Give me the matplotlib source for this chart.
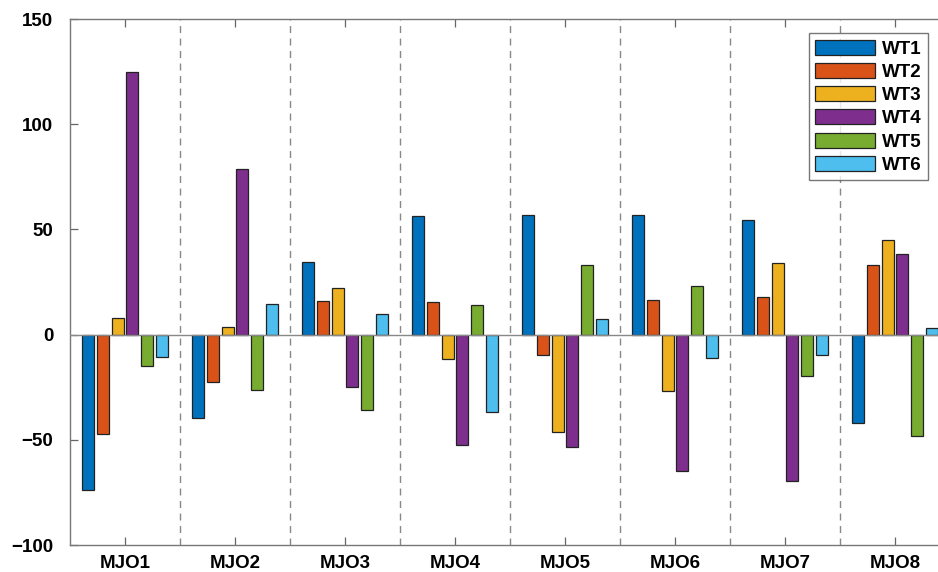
import matplotlib.pyplot as plt
import numpy as np

plt.rcParams['font.family'] = ['Liberation Sans', 'DejaVu Sans']
plt.rcParams['font.weight'] = 'bold'

categories = ['MJO1', 'MJO2', 'MJO3', 'MJO4', 'MJO5', 'MJO6', 'MJO7', 'MJO8']
series_names = ['WT1', 'WT2', 'WT3', 'WT4', 'WT5', 'WT6']

wt1 = [-74.0, -39.6, 34.4, 56.3, 57.0, 56.7, 54.6, -42.0]
wt2 = [-47.2, -22.6, 15.9, 15.6, -9.7, 16.5, 18.1, 33.3]
wt3 = [7.7, 3.8, 22.2, -11.6, -46.5, -26.7, 34.1, 45.1]
wt4 = [124.7, 78.8, -25.1, -52.5, -53.5, -65.0, -69.5, 38.2]
wt5 = [-14.8, -26.3, -35.6, 14.3, 33.3, 23.0, -19.7, -48.2]
wt6 = [-10.5, 14.7, 9.8, -36.7, 7.6, -11.3, -9.5, 3.2]

colors = ['#0072BD', '#D95319', '#EDB120', '#7E2F8E', '#77AC30', '#4DBEEE']

data = [wt1, wt2, wt3, wt4, wt5, wt6]
x = np.arange(1, len(categories) + 1)
n = len(data)
pitch = 0.8 / n
width = pitch * 0.8

fig = plt.figure(figsize=(9.38, 5.72), dpi=100)
ax = fig.add_axes([70 / 938, 1 - 545 / 572, 880 / 938, 526 / 572])

for i, (vals, name) in enumerate(zip(data, series_names)):
    offs = (i - (n - 1) / 2) * pitch
    ax.bar(x + offs, vals, width, color=colors[i], edgecolor='#222222',
           linewidth=0.9, label=name, zorder=3)

ax.axhline(0, color='#888888', linewidth=1.0, zorder=4)
for b in np.arange(1.5, len(categories), 1.0):
    ax.axvline(b, color='#888888', linestyle=(0, (5, 4)), linewidth=1.0, zorder=1)

ax.set_xlim(0.5, 8.5)
ax.set_ylim(-100, 150)
ax.set_xticks(x)
ax.set_xticklabels(categories)
ax.set_yticks([-100, -50, 0, 50, 100, 150])
ax.tick_params(direction='in', length=6, width=0.9, color='#666666',
               labelsize=13.5, top=True, right=True)
ax.tick_params(axis='y', pad=12)
ax.tick_params(axis='x', pad=7)
for s in ax.spines.values():
    s.set_color('#777777')
    s.set_linewidth(1.0)
for lab in ax.get_xticklabels() + ax.get_yticklabels():
    lab.set_fontweight('bold')

leg = ax.legend(loc='upper right', bbox_to_anchor=(0.975, 0.973),
                fontsize=13.5, frameon=True, fancybox=False, edgecolor='#555555',
                handlelength=3.2, handleheight=0.85, labelspacing=0.28,
                borderpad=0.35, handletextpad=0.35, borderaxespad=0)
leg.get_frame().set_linewidth(1.0)
for t in leg.get_texts():
    t.set_fontweight('bold')

fig.savefig('out.png', dpi=100)
